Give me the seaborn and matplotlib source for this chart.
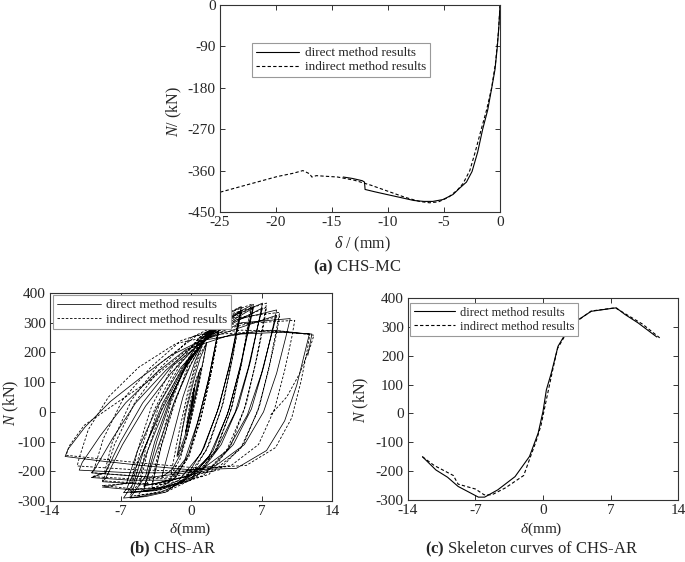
import numpy as np
import pandas as pd
import matplotlib
matplotlib.use("Agg")
import matplotlib.pyplot as plt
import seaborn as sns

# ===============================
# Data
# ===============================

# (a) CHS-MC, monotonic compression
mc_direct_x = [0, -0.1, -0.24, -0.45, -0.74, -1.1, -1.55, -2.0, -2.5, -3.0, -3.6, -4.2, -5.1,
               -6.0, -6.8, -7.7, -8.8, -10.1, -11.2, -12.05, -12.1, -12.3, -13.2, -14.0]
mc_direct_y = [0, -45, -90, -140, -180, -228, -270, -320, -362, -385, -398, -412, -423,
               -427, -427, -425, -419, -412, -406, -401, -385, -382, -377, -374]

mc_indirect_x = [0, -0.15, -0.4, -0.75, -1.2, -1.7, -2.2, -2.7, -3.3, -3.8, -4.6, -5.5, -6.3,
                 -7.2, -8.5, -10.0, -11.5, -13.0, -14.5, -15.8, -16.4, -16.8, -17.0, -17.6,
                 -18.5, -19.9, -22.0, -25.0]
mc_indirect_y = [0, -60, -125, -180, -228, -272, -318, -360, -388, -402, -418, -428, -430,
                 -427, -418, -405, -392, -381, -374, -372, -371, -374, -367, -360,
                 -366, -373, -387, -407]

# (b) CHS-AR hysteresis, one list of (delta, N) vertices per cycle
ar_direct_cycles = [
    [(0, 0), (0.15, 40), (0.35, 82), (0.2, 40), (-0.2, -20), (-0.5, -68)],
    [(-0.3, -20), (0.2, 60), (0.5, 100), (0.86, 140), (0.6, 90), (0.0, 0), (-0.6, -80),
     (-1.0, -120), (-1.4, -149)],
    [(-1.1, -100), (-0.5, 0), (0.3, 110), (0.9, 180), (1.56, 233), (1.2, 170), (0.5, 60),
     (-0.3, -60), (-1.0, -140), (-1.9, -195), (-2.9, -219)],
    [(-2.6, -180), (-1.8, -80), (-0.8, 50), (0.4, 170), (1.5, 255), (2.9, 308), (2.5, 240),
     (1.8, 120), (0.8, -20), (-0.2, -140), (-1.5, -220), (-3.0, -255), (-4.7, -265)],
    [(-4.4, -225), (-3.4, -100), (-2.0, 40), (-0.4, 170), (1.2, 260), (2.9, 300), (2.5, 235),
     (1.7, 100), (0.6, -40), (-0.6, -160), (-2.2, -230), (-4.7, -250)],
    [(-4.4, -230), (-3.2, -110), (-1.6, 40), (0, 160), (1.5, 255), (3.2, 320), (5.0, 354),
     (4.6, 290), (3.9, 170), (2.8, 20), (1.3, -120), (-0.5, -220), (-2.5, -270),
     (-4.5, -285), (-6.05, -290)],
    [(-4.5, -215), (-3.6, -100), (-2.0, 50), (-0.3, 170), (1.8, 262), (5.0, 340), (4.6, 280),
     (3.8, 150), (2.6, 0), (1.0, -140), (-1.2, -230), (-3.5, -265), (-6.0, -272)],
    [(-5.7, -255), (-4.3, -130), (-2.5, 20), (-0.5, 150), (1.5, 250), (3.8, 320), (6.2, 362),
     (5.8, 300), (5.0, 170), (3.8, 10), (2.2, -130), (0, -225), (-3, -270), (-5, -285),
     (-6.7, -290)],
    [(-5.7, -240), (-4.6, -120), (-2.8, 30), (-0.6, 160), (2, 265), (6.2, 350), (5.8, 290),
     (4.9, 150), (3.6, -10), (1.8, -150), (-0.8, -235), (-4, -265), (-6.7, -272)],
    [(-6.4, -260), (-5, -150), (-3, 0), (-1, 130), (1.3, 240), (4.0, 320), (7.1, 366),
     (6.7, 300), (5.9, 170), (4.7, 20), (3.0, -110), (0.8, -210), (-2.5, -255),
     (-6, -262), (-8.8, -253)],
    [(-6.4, -240), (-5.3, -130), (-3.3, 20), (-1, 150), (2, 260), (7.1, 350), (6.6, 285),
     (5.7, 150), (4.4, 0), (2.5, -130), (0, -215), (-4, -245), (-8.8, -235)],
    [(-8.5, -225), (-6.8, -110), (-4.5, 20), (-2, 130), (0.8, 230), (4.5, 310), (8.5, 343),
     (8.1, 280), (7.2, 150), (6.0, 10), (4.2, -110), (1.8, -195), (-2, -230), (-6, -230),
     (-9.9, -221)],
    [(-8.5, -205), (-7, -100), (-4.8, 30), (-2, 150), (1.5, 245), (8.5, 325), (8.0, 260),
     (7.0, 130), (5.6, -10), (3.6, -130), (0.8, -200), (-4, -220), (-9.9, -205)],
    [(-9.6, -195), (-7.8, -90), (-5.5, 30), (-2.5, 140), (0.5, 230), (5, 300), (9.85, 314),
     (9.4, 250), (8.5, 130), (7.2, 0), (5.3, -110), (2.5, -180), (-1.5, -205), (-6, -205),
     (-11.1, -196)],
    [(-10.8, -170), (-9, -80), (-6.5, 30), (-3.5, 130), (-0.5, 210), (4, 260), (8, 275),
     (11.75, 262), (11.3, 200), (10.5, 90), (9.3, -30), (7.5, -130), (4.5, -190),
     (0, -195), (-5, -180), (-9, -165), (-12.5, -150)],
    [(-12.2, -125), (-10.5, -50), (-8, 35), (-5, 115), (-2, 190), (1, 240), (5, 262),
     (9, 268), (12.0, 262), (11.6, 190)],
]

ar_indirect_cycles = [
    [(0, 0), (0.12, 40), (0.3, 80), (0.18, 45), (-0.2, -20), (-0.55, -70)],
    [(-0.4, -35), (-0.05, 40), (0.5, 110), (1.0, 150), (0.75, 100), (0.2, 10), (-0.5, -90),
     (-1.3, -150)],
    [(-1.1, -110), (-0.6, 0), (0.3, 130), (0.9, 195), (1.5, 228), (1.25, 175), (0.6, 60),
     (-0.3, -70), (-1.1, -160), (-2.0, -212)],
    [(-1.8, -175), (-1.2, -70), (-0.3, 70), (0.7, 190), (1.7, 265), (2.9, 305), (2.6, 250),
     (2.0, 130), (1.0, -20), (-0.2, -150), (-1.8, -230), (-3.9, -258)],
    [(-3.7, -220), (-2.9, -110), (-1.6, 30), (-0.2, 165), (1.3, 255), (2.9, 298), (2.6, 240),
     (1.9, 115), (0.8, -40), (-0.5, -165), (-2.2, -235), (-3.9, -245)],
    [(-3.7, -225), (-3.0, -120), (-1.8, 20), (-0.2, 150), (1.5, 255), (3.2, 325), (5.0, 355),
     (4.7, 300), (4.1, 180), (3.2, 30), (1.8, -110), (0, -215), (-2.5, -265), (-5.3, -282)],
    [(-3.7, -210), (-3.1, -110), (-2.0, 30), (-0.5, 160), (1.4, 255), (5.0, 342), (4.7, 285),
     (4.0, 160), (3.0, 10), (1.5, -130), (-0.5, -225), (-3, -262), (-5.3, -268)],
    [(-5.1, -250), (-4.3, -130), (-2.8, 20), (-0.8, 155), (1.2, 250), (3.5, 330), (6.0, 362),
     (5.7, 305), (5.1, 180), (4.1, 20), (2.6, -120), (0.5, -220), (-2.5, -270), (-6.1, -284)],
    [(-5.1, -235), (-4.5, -120), (-3.1, 30), (-1, 165), (1.5, 265), (6.0, 350), (5.7, 290),
     (5.0, 160), (3.9, 0), (2.3, -140), (0, -230), (-3, -262), (-6.1, -270)],
    [(-5.9, -255), (-5.2, -150), (-3.6, 10), (-1.5, 150), (0.8, 250), (4, 330), (7.5, 366),
     (7.2, 305), (6.5, 180), (5.5, 30), (4.0, -110), (1.8, -210), (-2, -250), (-5.5, -260),
     (-8.8, -248)],
    [(-5.9, -240), (-5.4, -140), (-3.9, 20), (-1.7, 160), (1.2, 260), (7.5, 352), (7.2, 290),
     (6.4, 160), (5.3, 10), (3.6, -125), (1.2, -215), (-3, -245), (-8.8, -232)],
    [(-8.6, -220), (-7.6, -110), (-5.6, 30), (-3, 150), (0, 250), (4, 315), (8.8, 335),
     (8.5, 280), (7.8, 160), (6.8, 20), (5.2, -110), (2.8, -195), (-1.5, -225), (-6, -225),
     (-9.8, -218)],
    [(-8.6, -205), (-7.8, -100), (-5.9, 40), (-3.2, 160), (0.5, 255), (8.8, 322), (8.5, 265),
     (7.7, 140), (6.6, 0), (4.9, -125), (2.2, -200), (-3, -222), (-9.8, -205)],
    [(-9.6, -190), (-8.7, -90), (-6.8, 40), (-4, 150), (-1, 240), (4, 295), (10.3, 308),
     (10.0, 250), (9.3, 140), (8.3, 10), (6.7, -110), (4, -180), (0, -200), (-5.5, -195),
     (-11.3, -182)],
    [(-11.1, -155), (-10.2, -60), (-8.2, 50), (-5.2, 150), (-1.5, 230), (3, 262), (7.5, 272),
     (11.8, 262), (11.5, 200), (10.9, 100), (10.0, -20), (8.4, -120), (5.5, -180),
     (1, -190), (-4, -175), (-8.5, -160), (-12.4, -146)],
    [(-12.1, -115), (-10.6, -45), (-7.4, 30), (-4, 108), (-0.8, 198), (1.6, 262), (5, 275),
     (9, 272), (12.2, 258), (11.9, 225), (10.8, 130), (9.5, 50), (7.8, -14)],
]

# (c) skeleton curves of CHS-AR
sk_direct_x = [-12.5, -11.1, -9.9, -8.8, -6.7, -6.05, -4.7, -2.9, -1.4, -0.5, 0, 0.35, 0.86,
               1.56, 2.9, 5.0, 7.1, 7.6, 8.5, 9.85, 11.8]
sk_direct_y = [-150, -196, -221, -253, -290, -290, -265, -219, -149, -68, 7, 82, 140,
               233, 308, 354, 364, 366, 343, 314, 265]
sk_indirect_x = [-12.5, -11.3, -9.3, -8.8, -7.0, -6.1, -5.3, -3.9, -2.0, -1.3, -0.7, -0.2, 0.3,
                 1.0, 1.5, 2.9, 5.0, 7.5, 8.8, 10.3, 12.1]
sk_indirect_y = [-150, -180, -215, -245, -262, -282, -282, -258, -215, -150, -95, -40, 40,
                 150, 225, 305, 355, 366, 340, 310, 262]

labels = ["direct method results", "indirect method results"]

# ===============================
# Style
# ===============================
sns.set_style("ticks")
plt.rcParams["font.family"] = ["Liberation Serif", "DejaVu Serif"]
plt.rcParams["mathtext.fontset"] = "custom"
plt.rcParams["mathtext.rm"] = "Liberation Serif"
plt.rcParams["mathtext.it"] = "Liberation Serif:italic"
plt.rcParams["mathtext.bf"] = "Liberation Serif:bold"
plt.rcParams["axes.edgecolor"] = "#333333"
plt.rcParams["axes.linewidth"] = 0.8

DASH = (0, (3, 2))


def style_axes(ax, xlim, ylim, xticks, yticks):
    ax.set_xlim(*xlim)
    ax.set_ylim(*ylim)
    ax.set_xticks(xticks)
    ax.set_yticks(yticks)
    ax.set_xticklabels([f"{t:g}" for t in xticks])
    ax.set_yticklabels([f"{t:g}" for t in yticks])
    ax.tick_params(direction="in", top=True, right=True, length=3.5, width=0.7,
                   labelsize=11, color="#333333")
    ax.tick_params(axis="x", pad=3)
    ax.tick_params(axis="y", pad=3)
    ax.set_xlabel("")
    ax.set_ylabel("")


def add_legend(ax, anchor, size):
    leg = ax.legend(loc="upper left", bbox_to_anchor=anchor, borderaxespad=0,
                    fontsize=size, frameon=True, fancybox=False, handlelength=3.3,
                    handletextpad=0.4, borderpad=0.3, labelspacing=0.15)
    leg.get_frame().set_edgecolor("#999999")
    leg.get_frame().set_linewidth(0.8)
    leg.get_frame().set_alpha(1)


def cycles_frame(cycles):
    pts = [p for c in cycles for p in c]
    return pd.DataFrame(pts, columns=["d", "N"])


fig = plt.figure(figsize=(6.85, 5.62), dpi=100)
ax_a = fig.add_axes([0.3212, 0.6228, 0.4088, 0.3683])
ax_b = fig.add_axes([0.0730, 0.1085, 0.4117, 0.3701])
ax_c = fig.add_axes([0.5956, 0.1103, 0.3942, 0.3594])

# ---- (a)
sns.lineplot(x=mc_direct_x, y=mc_direct_y, sort=False, estimator=None, color="k",
             lw=0.8, ax=ax_a, label=labels[0])
sns.lineplot(x=mc_indirect_x, y=mc_indirect_y, sort=False, estimator=None, color="k",
             lw=0.8, linestyle=DASH, ax=ax_a, label=labels[1])
style_axes(ax_a, (-25, 0), (-450, 0), [-25, -20, -15, -10, -5, 0],
           [0, -90, -180, -270, -360, -450])
add_legend(ax_a, (0.114, 0.816), 9.5)
fig.text(174 / 685, 1 - 112 / 562, r"$N$/ (kN)", rotation=90, ha="center", va="center",
         fontsize=11.5)
fig.text(362 / 685, 1 - 244 / 562, r"$\delta$ / (mm)", ha="center", va="center",
         fontsize=11.5)
fig.text(357 / 685, 1 - 267 / 562, r"$\mathbf{(a)}$ CHS-MC", ha="center", va="center",
         fontsize=12)

# ---- (b)
df_bd = cycles_frame(ar_direct_cycles)
df_bi = cycles_frame(ar_indirect_cycles)
sns.lineplot(data=df_bd, x="d", y="N", sort=False, estimator=None, color="k", lw=0.55,
             ax=ax_b, label=labels[0])
sns.lineplot(data=df_bi, x="d", y="N", sort=False, estimator=None, color="k", lw=0.6,
             linestyle=DASH, ax=ax_b, label=labels[1])
style_axes(ax_b, (-14, 14), (-300, 400), [-14, -7, 0, 7, 14],
           [400, 300, 200, 100, 0, -100, -200, -300])
add_legend(ax_b, (0.011, 0.99), 9.5)
fig.text(11 / 685, 1 - 403 / 562, r"$N$ (kN)", rotation=90, ha="center", va="center",
         fontsize=11.5)
fig.text(190 / 685, 1 - 529 / 562, r"$\delta$(mm)", ha="center", va="center",
         fontsize=11)
fig.text(173 / 685, 1 - 549 / 562, r"$\mathbf{(b)}$ CHS-AR", ha="center", va="center",
         fontsize=12)

# ---- (c)
sns.lineplot(x=sk_direct_x, y=sk_direct_y, sort=False, estimator=None, color="k",
             lw=0.8, ax=ax_c, label=labels[0])
sns.lineplot(x=sk_indirect_x, y=sk_indirect_y, sort=False, estimator=None, color="k",
             lw=0.8, linestyle=DASH, ax=ax_c, label=labels[1])
style_axes(ax_c, (-14, 14), (-300, 400), [-14, -7, 0, 7, 14],
           [400, 300, 200, 100, 0, -100, -200, -300])
add_legend(ax_c, (0.007, 0.975), 9)
fig.text(361 / 685, 1 - 400 / 562, r"$N$ (kN)", rotation=90, ha="center", va="center",
         fontsize=11.5)
fig.text(541 / 685, 1 - 529 / 562, r"$\delta$(mm)", ha="center", va="center",
         fontsize=11)
fig.text(532 / 685, 1 - 549 / 562, r"$\mathbf{(c)}$ Skeleton curves of CHS-AR",
         ha="center", va="center", fontsize=12)

fig.savefig("out.png", dpi=100)
